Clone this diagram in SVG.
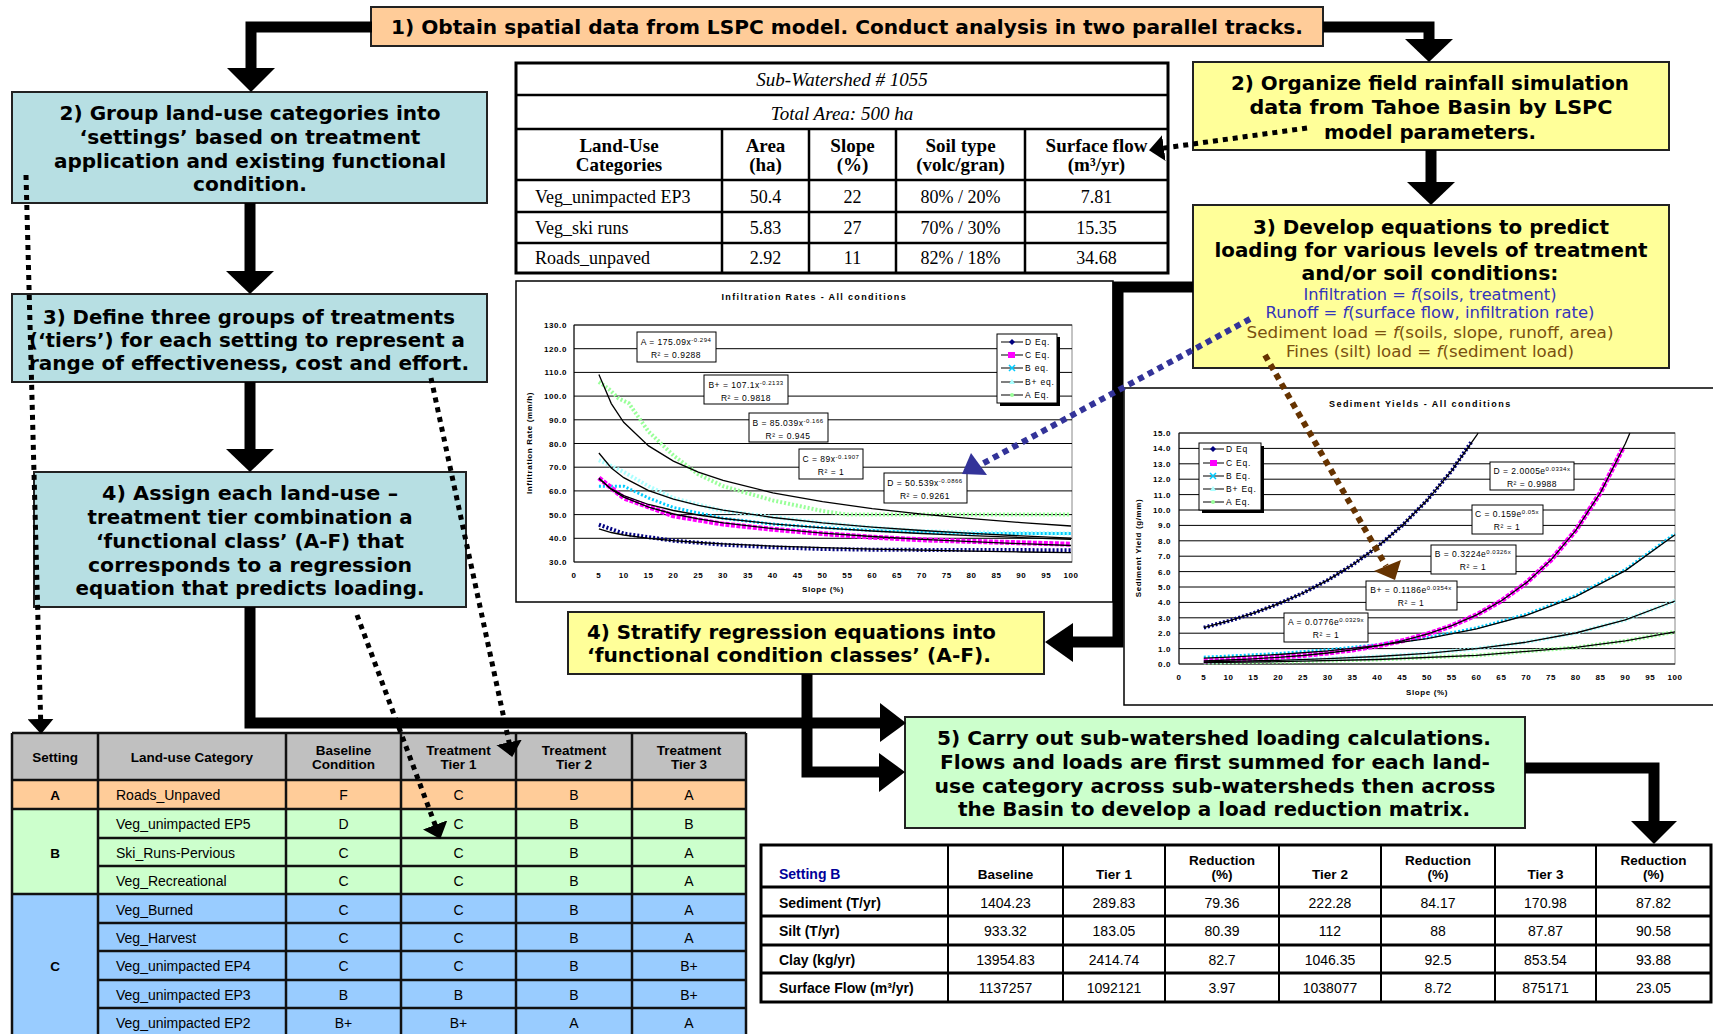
<svg xmlns="http://www.w3.org/2000/svg" width="1713" height="1034" viewBox="0 0 1713 1034">
<style>
.bt{font-family:"DejaVu Sans",Verdana,sans-serif;font-weight:bold;font-size:19px;fill:#000;text-anchor:middle}
.rt{font-family:"DejaVu Sans",Verdana,sans-serif;font-size:15px;text-anchor:middle}
.blue{fill:#3333BB}
.brown{fill:#7A5010}
.box{stroke:#222;stroke-width:2}
.teal{fill:#B7DFE3}
.yel{fill:#FFFF99}
.org{fill:#FFCC99}
.grn{fill:#CCFFCC}
.conn{fill:none;stroke:#000;stroke-width:11}
.ah{fill:#000}
.dot{fill:none;stroke:#000;stroke-width:5;stroke-dasharray:5 5}
.tmi{font-family:"Liberation Serif","Times New Roman",serif;font-size:19px;font-style:italic;text-anchor:middle}
.tmb{font-family:"Liberation Serif","Times New Roman",serif;font-size:19px;font-weight:bold;text-anchor:middle}
.tm{font-family:"Liberation Serif","Times New Roman",serif;font-size:18px;text-anchor:middle}
.tl{stroke:#000;stroke-width:2.5}
.ax{font-family:"Liberation Sans",Arial,sans-serif;font-size:8px;font-weight:bold;letter-spacing:0.6px}
.ct{font-family:"Liberation Sans",Arial,sans-serif;font-size:9px;font-weight:bold;letter-spacing:0.8px;text-anchor:middle}
.eq{font-family:"Liberation Sans",Arial,sans-serif;font-size:8.5px;letter-spacing:0.5px;text-anchor:middle}
.lg{font-family:"Liberation Sans",Arial,sans-serif;font-size:8.5px;letter-spacing:0.8px}
.grid{stroke:#000;stroke-width:1}
.fit{fill:none;stroke:#000;stroke-width:1.3}
.sD{fill:none;stroke:#000080;stroke-width:4;stroke-dasharray:2 2}
.sC{fill:none;stroke:#FF00FF;stroke-width:5;stroke-dasharray:4 1.5}
.sB{fill:none;stroke:#00CCFF;stroke-width:3;stroke-dasharray:2 2}
.sBp{fill:none;stroke:#AAFFFF;stroke-width:4;stroke-dasharray:2 2}
.sA{fill:none;stroke:#99FF99;stroke-width:4;stroke-dasharray:2 2}
.eb{fill:#fff;stroke:#000;stroke-width:1}
.th{font-family:"Liberation Sans",Arial,sans-serif;font-size:13.5px;font-weight:bold;text-anchor:middle}
.td{font-family:"Liberation Sans",Arial,sans-serif;font-size:14px;text-anchor:middle}
.tdl{font-family:"Liberation Sans",Arial,sans-serif;font-size:14px}
.rh{font-family:"Liberation Sans",Arial,sans-serif;font-size:14px;font-weight:bold}
.gl{stroke:#111;stroke-width:2.5}
</style>
<defs>
<marker id="dah" viewBox="0 0 15 26" refX="14" refY="13" markerWidth="15" markerHeight="26" markerUnits="userSpaceOnUse" orient="auto"><path d="M0,0L15,13L0,26Z" fill="#000"/></marker>
</defs>
<rect width="1713" height="1034" fill="#fff"/>

<g id="step1">
<rect class="box org" x="371" y="7" width="952" height="39"/>
<text class="bt" x="847" y="34" textLength="912" lengthAdjust="spacingAndGlyphs">1) Obtain spatial data from LSPC model. Conduct analysis in two parallel tracks.</text>
</g>

<g id="left2">
<rect class="box teal" x="12" y="92" width="475" height="111"/>
<text class="bt" font-size="20" x="250" y="120" textLength="381" lengthAdjust="spacingAndGlyphs">2) Group land-use categories into</text>
<text class="bt" font-size="20" x="250" y="144" textLength="341" lengthAdjust="spacingAndGlyphs">‘settings’ based on treatment</text>
<text class="bt" font-size="20" x="250" y="168" textLength="392" lengthAdjust="spacingAndGlyphs">application and existing functional</text>
<text class="bt" font-size="20" x="250" y="191" textLength="114" lengthAdjust="spacingAndGlyphs">condition.</text>
</g>

<g id="left3">
<rect class="box teal" x="12" y="294" width="475" height="88"/>
<text class="bt" font-size="20" x="249" y="324" textLength="412" lengthAdjust="spacingAndGlyphs">3) Define three groups of treatments</text>
<text class="bt" font-size="20" x="247" y="347" textLength="436" lengthAdjust="spacingAndGlyphs">(‘tiers’) for each setting to represent a</text>
<text class="bt" font-size="20" x="249" y="370" textLength="440" lengthAdjust="spacingAndGlyphs">range of effectiveness, cost and effort.</text>
</g>

<g id="left4">
<rect class="box teal" x="34" y="472" width="432" height="135"/>
<text class="bt" font-size="20" x="250" y="500" textLength="296" lengthAdjust="spacingAndGlyphs">4) Assign each land-use –</text>
<text class="bt" font-size="20" x="250" y="524" textLength="325" lengthAdjust="spacingAndGlyphs">treatment tier combination a</text>
<text class="bt" font-size="20" x="250" y="548" textLength="308" lengthAdjust="spacingAndGlyphs">‘functional class’ (A-F) that</text>
<text class="bt" font-size="20" x="250" y="572" textLength="324" lengthAdjust="spacingAndGlyphs">corresponds to a regression</text>
<text class="bt" font-size="20" x="250" y="595" textLength="349" lengthAdjust="spacingAndGlyphs">equation that predicts loading.</text>
</g>

<g id="right2">
<rect class="box yel" x="1193" y="62" width="476" height="88"/>
<text class="bt" x="1430" y="90" textLength="398" lengthAdjust="spacingAndGlyphs">2) Organize field rainfall simulation</text>
<text class="bt" x="1431" y="114" textLength="363" lengthAdjust="spacingAndGlyphs">data from Tahoe Basin by LSPC</text>
<text class="bt" x="1430" y="139" textLength="212" lengthAdjust="spacingAndGlyphs">model parameters.</text>
</g>

<g id="right3">
<rect class="box yel" x="1193" y="205" width="476" height="163"/>
<text class="bt" x="1431" y="234" textLength="356" lengthAdjust="spacingAndGlyphs">3) Develop equations to predict</text>
<text class="bt" x="1431" y="257" textLength="433" lengthAdjust="spacingAndGlyphs">loading for various levels of treatment</text>
<text class="bt" x="1430" y="280" textLength="257" lengthAdjust="spacingAndGlyphs">and/or soil conditions:</text>
<text class="rt blue" x="1430" y="300" textLength="253" lengthAdjust="spacingAndGlyphs">Infiltration = <tspan font-style="italic">f</tspan>(soils, treatment)</text>
<text class="rt blue" x="1430" y="318" textLength="329" lengthAdjust="spacingAndGlyphs">Runoff = <tspan font-style="italic">f</tspan>(surface flow, infiltration rate)</text>
<text class="rt brown" x="1430" y="338" textLength="367" lengthAdjust="spacingAndGlyphs">Sediment load = <tspan font-style="italic">f</tspan>(soils, slope, runoff, area)</text>
<text class="rt brown" x="1430" y="357" textLength="288" lengthAdjust="spacingAndGlyphs">Fines (silt) load = <tspan font-style="italic">f</tspan>(sediment load)</text>
</g>

<g id="stratify">
<rect class="box yel" x="568" y="612" width="476" height="62"/>
<text class="bt" style="text-anchor:start" x="587" y="639" textLength="409" lengthAdjust="spacingAndGlyphs">4) Stratify regression equations into</text>
<text class="bt" style="text-anchor:start" x="587" y="662" textLength="404" lengthAdjust="spacingAndGlyphs">‘functional condition classes’ (A-F).</text>
</g>

<g id="step5">
<rect class="box grn" x="905" y="717" width="620" height="111"/>
<text class="bt" x="1214" y="745" textLength="554" lengthAdjust="spacingAndGlyphs">5) Carry out sub-watershed loading calculations.</text>
<text class="bt" x="1215" y="769" textLength="550" lengthAdjust="spacingAndGlyphs">Flows and loads are first summed for each land-</text>
<text class="bt" x="1215" y="793" textLength="561" lengthAdjust="spacingAndGlyphs">use category across sub-watersheds then across</text>
<text class="bt" x="1214" y="816" textLength="512" lengthAdjust="spacingAndGlyphs">the Basin to develop a load reduction matrix.</text>
</g>

<g id="subwatershed-table">
<rect x="516" y="63" width="652" height="210" fill="#fff" stroke="#000" stroke-width="3"/>
<path class="tl" d="M516,95H1168M516,129H1168M516,180H1168M516,212H1168M516,243H1168M722,129V273M809,129V273M896,129V273M1025,129V273"/>
<text class="tmi" x="842" y="86">Sub-Watershed # 1055</text>
<text class="tmi" x="842" y="120">Total Area: 500 ha</text>
<text class="tmb" x="619" y="152">Land-Use</text><text class="tmb" x="619" y="171">Categories</text>
<text class="tmb" x="765.5" y="152">Area</text><text class="tmb" x="765.5" y="171">(ha)</text>
<text class="tmb" x="852.5" y="152">Slope</text><text class="tmb" x="852.5" y="171">(%)</text>
<text class="tmb" x="960.5" y="152">Soil type</text><text class="tmb" x="960.5" y="171">(volc/gran)</text>
<text class="tmb" x="1096.5" y="152">Surface flow</text><text class="tmb" x="1096.5" y="171">(m³/yr)</text>
<text class="tm" style="text-anchor:start" x="535" y="203">Veg_unimpacted EP3</text>
<text class="tm" x="765.5" y="203">50.4</text><text class="tm" x="852.5" y="203">22</text><text class="tm" x="960.5" y="203">80% / 20%</text><text class="tm" x="1096.5" y="203">7.81</text>
<text class="tm" style="text-anchor:start" x="535" y="234">Veg_ski runs</text>
<text class="tm" x="765.5" y="234">5.83</text><text class="tm" x="852.5" y="234">27</text><text class="tm" x="960.5" y="234">70% / 30%</text><text class="tm" x="1096.5" y="234">15.35</text>
<text class="tm" style="text-anchor:start" x="535" y="264">Roads_unpaved</text>
<text class="tm" x="765.5" y="264">2.92</text><text class="tm" x="852.5" y="264">11</text><text class="tm" x="960.5" y="264">82% / 18%</text><text class="tm" x="1096.5" y="264">34.68</text>
</g>

<g id="infiltration-chart">
<rect x="516" y="281" width="597" height="321" fill="#fff" stroke="#000" stroke-width="1.5"/>
<text class="ct" x="814" y="300" textLength="185">Infiltration Rates - All conditions</text>
<rect x="574" y="325" width="498" height="237" fill="none" stroke="#888" stroke-width="1"/>
<path class="grid" d="M574,325H1072M574,348.7H1072M574,372.4H1072M574,396.1H1072M574,419.8H1072M574,443.5H1072M574,467.2H1072M574,490.9H1072M574,514.6H1072M574,538.3H1072M574,562H1072M574,325V562"/>
<g class="ax" text-anchor="end">
<text x="567" y="328">130.0</text><text x="567" y="351.7">120.0</text><text x="567" y="375.4">110.0</text><text x="567" y="399.1">100.0</text><text x="567" y="422.8">90.0</text><text x="567" y="446.5">80.0</text><text x="567" y="470.2">70.0</text><text x="567" y="493.9">60.0</text><text x="567" y="517.6">50.0</text><text x="567" y="541.3">40.0</text><text x="567" y="565">30.0</text>
</g>
<g class="ax" text-anchor="middle">
<text x="574" y="578">0</text><text x="598.9" y="578">5</text><text x="623.7" y="578">10</text><text x="648.6" y="578">15</text><text x="673.4" y="578">20</text><text x="698.3" y="578">25</text><text x="723.1" y="578">30</text><text x="748" y="578">35</text><text x="772.8" y="578">40</text><text x="797.7" y="578">45</text><text x="822.5" y="578">50</text><text x="847.4" y="578">55</text><text x="872.2" y="578">60</text><text x="897.1" y="578">65</text><text x="921.9" y="578">70</text><text x="946.8" y="578">75</text><text x="971.6" y="578">80</text><text x="996.5" y="578">85</text><text x="1021.3" y="578">90</text><text x="1046.2" y="578">95</text><text x="1071" y="578">100</text>
</g>
<text class="ax" x="823" y="592" text-anchor="middle">Slope (%)</text>
<text class="ax" x="0" y="0" text-anchor="middle" transform="translate(532,443) rotate(-90)">Infiltration Rate (mm/h)</text>
<polyline class="sA" points="598.9,381.9 608.8,389 618.7,398.5 628.7,403.2 648.6,431.6 673.4,455.4 698.3,474.3 723.1,486.2 772.8,500.4 822.5,511 847.4,514.6 1071,514.6"/>
<polyline class="sBp" points="598.9,460.1 623.7,471.9 648.6,486.2 673.4,498 723.1,511 772.8,517 822.5,522.9 872.2,527.6 921.9,531.2 971.6,532.4 1071,533.6"/>
<polyline class="sB" points="598.9,486.2 623.7,486.2 648.6,498 673.4,507.5 723.1,518.2 772.8,524.1 822.5,527.6 872.2,530.5 921.9,532.4 971.6,533.6 1071,533.6"/>
<polyline class="sC" points="598.9,477.9 623.7,497.9 673.4,515.8 723.1,524.1 772.8,529.3 822.5,533.6 872.2,537.2 921.9,539.8 971.6,541.4 1071,544.2"/>
<polyline class="sD" points="598.9,524.6 623.7,533.6 673.4,540.7 723.1,544.7 772.8,547.3 822.5,549 872.2,549.7 921.9,549.9 1071,550.2"/>
<polyline class="fit" points="598.9,374.6 611.3,403.6 623.7,422.3 648.6,445.9 673.4,461.1 698.3,472.1 723.1,480.4 772.8,492.8 822.5,501.7 872.2,508.6 921.9,514.1 971.6,518.7 1021.3,522.6 1071,526"/>
<polyline class="fit" points="598.9,453 611.3,468 623.7,477.7 648.6,490.7 673.4,499.1 698.3,505.4 723.1,510.2 772.8,517.5 822.5,522.9 872.2,527.1 921.9,530.5 971.6,533.4 1021.3,535.9 1071,538.1"/>
<polyline class="fit" points="598.9,478.8 611.3,488.9 623.7,495.6 648.6,504.5 673.4,510.5 698.3,515 723.1,518.5 772.8,523.8 822.5,527.8 872.2,531 921.9,533.5 971.6,535.7 1021.3,537.6 1071,539.3"/>
<polyline class="fit" points="598.9,477.9 611.3,489.5 623.7,497.1 648.6,507.2 673.4,514 698.3,518.9 723.1,522.8 772.8,528.7 822.5,533.1 872.2,536.5 921.9,539.3 971.6,541.6 1021.3,543.7 1071,545.5"/>
<polyline class="fit" points="598.9,528.9 611.3,532.5 623.7,535 648.6,538.3 673.4,540.7 698.3,542.5 723.1,543.9 772.8,546.1 822.5,547.7 872.2,549.1 921.9,550.2 971.6,551.1 1021.3,552 1071,552.7"/>
<rect class="eb" x="637" y="332" width="79" height="30"/>
<text class="eq" x="676" y="345">A = 175.09x<tspan dy="-3" font-size="6">-0.294</tspan></text>
<text class="eq" x="676" y="358">R² = 0.9288</text>
<rect class="eb" x="704" y="375" width="84" height="29"/>
<text class="eq" x="746" y="388">B+ = 107.1x<tspan dy="-3" font-size="6">-0.2133</tspan></text>
<text class="eq" x="746" y="401">R² = 0.9818</text>
<rect class="eb" x="749" y="413" width="79" height="29"/>
<text class="eq" x="788" y="426">B = 85.039x<tspan dy="-3" font-size="6">-0.166</tspan></text>
<text class="eq" x="788" y="439">R² = 0.945</text>
<rect class="eb" x="799" y="449" width="64" height="30"/>
<text class="eq" x="831" y="462">C = 89x<tspan dy="-3" font-size="6">-0.1907</tspan></text>
<text class="eq" x="831" y="475">R² = 1</text>
<rect class="eb" x="884" y="473" width="83" height="30"/>
<text class="eq" x="925" y="486">D = 50.539x<tspan dy="-3" font-size="6">-0.0866</tspan></text>
<text class="eq" x="925" y="499">R² = 0.9261</text>
<rect x="1000" y="337" width="60" height="69" fill="#000"/>
<rect x="997" y="334" width="60" height="69" fill="#fff" stroke="#000" stroke-width="1"/>
<path d="M1001,342H1023M1001,355H1023M1001,368H1023M1001,382H1023M1001,395H1023" stroke="#000" stroke-width="1.2"/>
<path d="M1012,339L1015,342L1012,345L1009,342Z" fill="#000080"/>
<rect x="1008" y="352" width="7" height="6" fill="#FF00FF"/>
<path d="M1009,365L1015,371M1015,365L1009,371" stroke="#00CCFF" stroke-width="1.5"/>
<path d="M1012,379L1015,384L1009,384Z" fill="#AAFFFF"/>
<circle cx="1012" cy="395" r="2" fill="#99FF99"/>
<text class="lg" x="1025" y="345">D Eq.</text>
<text class="lg" x="1025" y="358">C Eq.</text>
<text class="lg" x="1025" y="371">B eq.</text>
<text class="lg" x="1025" y="385">B+ eq.</text>
<text class="lg" x="1025" y="398">A Eq.</text>
</g>

<g id="sediment-chart">
<rect x="1124" y="388" width="600" height="317" fill="#fff" stroke="#000" stroke-width="1.5"/>
<text class="ct" x="1420" y="407" textLength="182">Sediment Yields - All conditions</text>
<rect x="1179" y="433" width="496" height="231" fill="none" stroke="#888" stroke-width="1"/>
<path class="grid" d="M1179,433H1675M1179,448.4H1675M1179,463.8H1675M1179,479.2H1675M1179,494.6H1675M1179,510H1675M1179,525.4H1675M1179,540.8H1675M1179,556.2H1675M1179,571.6H1675M1179,587H1675M1179,602.4H1675M1179,617.8H1675M1179,633.2H1675M1179,648.6H1675M1179,664H1675M1179,433V664"/>
<g class="ax" text-anchor="end">
<text x="1171" y="436">15.0</text><text x="1171" y="451.4">14.0</text><text x="1171" y="466.8">13.0</text><text x="1171" y="482.2">12.0</text><text x="1171" y="497.6">11.0</text><text x="1171" y="513">10.0</text><text x="1171" y="528.4">9.0</text><text x="1171" y="543.8">8.0</text><text x="1171" y="559.2">7.0</text><text x="1171" y="574.6">6.0</text><text x="1171" y="590">5.0</text><text x="1171" y="605.4">4.0</text><text x="1171" y="620.8">3.0</text><text x="1171" y="636.2">2.0</text><text x="1171" y="651.6">1.0</text><text x="1171" y="667">0.0</text>
</g>
<g class="ax" text-anchor="middle">
<text x="1179" y="680">0</text><text x="1203.8" y="680">5</text><text x="1228.6" y="680">10</text><text x="1253.4" y="680">15</text><text x="1278.2" y="680">20</text><text x="1303" y="680">25</text><text x="1327.8" y="680">30</text><text x="1352.6" y="680">35</text><text x="1377.4" y="680">40</text><text x="1402.2" y="680">45</text><text x="1427" y="680">50</text><text x="1451.8" y="680">55</text><text x="1476.6" y="680">60</text><text x="1501.4" y="680">65</text><text x="1526.2" y="680">70</text><text x="1551" y="680">75</text><text x="1575.8" y="680">80</text><text x="1600.6" y="680">85</text><text x="1625.4" y="680">90</text><text x="1650.2" y="680">95</text><text x="1675" y="680">100</text>
</g>
<text class="ax" x="1427" y="695" text-anchor="middle">Slope (%)</text>
<text class="ax" x="0" y="0" text-anchor="middle" transform="translate(1141,548) rotate(-90)">Sediment Yield (g/mm)</text>
<polyline class="sA" points="1203.8,662.6 1278.2,661.7 1377.4,659.5 1476.6,655.4 1575.8,647.4 1625.4,640.9 1675,631.9"/>
<polyline class="sBp" points="1203.8,661.8 1228.6,661.4 1278.2,660.3 1327.8,658.7 1377.4,656.5 1427,653.3 1476.6,648.7 1526.2,642.2 1575.8,633 1625.4,619.8 1675,601"/>
<polyline class="sB" points="1203.8,657.2 1228.6,656.1 1278.2,653.5 1327.8,649.8 1377.4,644.7 1427,637.7 1476.6,627.9 1526.2,614.4 1575.8,595.6 1625.4,569.6 1675,533.7"/>
<polyline class="sC" points="1203.8,660.9 1228.6,660 1253.4,658.8 1278.2,657.3 1303,655.5 1327.8,653 1352.6,649.9 1377.4,645.9 1402.2,640.8 1427,634.2 1451.8,625.7 1476.6,614.8 1501.4,600.8 1526.2,582.9 1551,559.9 1575.8,530.3 1600.6,492.3 1623,448"/>
<polyline class="sD" points="1203.8,627.6 1228.6,621 1253.4,613.2 1278.2,603.9 1303,593 1327.8,580.1 1352.6,564.8 1377.4,546.8 1402.2,525.5 1427,500.3 1451.8,470.6 1472,441"/>
<polyline class="fit" points="1203.8,627.6 1228.6,621 1253.4,613.2 1278.2,603.9 1303,593 1327.8,580.1 1352.6,564.8 1377.4,546.8 1402.2,525.5 1427,500.3 1451.8,470.6 1476.6,435.5 1478.1,433"/>
<polyline class="fit" points="1203.8,660.9 1228.6,660 1253.4,658.8 1278.2,657.3 1303,655.5 1327.8,653 1352.6,649.9 1377.4,645.9 1402.2,640.8 1427,634.2 1451.8,625.7 1476.6,614.8 1501.4,600.8 1526.2,582.9 1551,559.9 1575.8,530.3 1600.6,492.3 1625.4,443.6 1629.9,433"/>
<polyline class="fit" points="1203.8,658.2 1228.6,657.1 1278.2,654.5 1327.8,650.8 1377.4,645.7 1427,638.7 1476.6,628.9 1526.2,615.4 1575.8,596.6 1625.4,570.6 1675,534.7"/>
<polyline class="fit" points="1203.8,661.8 1228.6,661.4 1278.2,660.3 1327.8,658.7 1377.4,656.5 1427,653.3 1476.6,648.7 1526.2,642.2 1575.8,633 1625.4,619.8 1675,601"/>
<polyline class="fit" points="1203.8,662.6 1278.2,661.7 1377.4,659.5 1476.6,655.4 1575.8,647.4 1625.4,640.9 1675,631.9"/>
<rect class="eb" x="1490" y="462" width="84" height="28"/>
<text class="eq" x="1532" y="474">D = 2.0005e<tspan dy="-3" font-size="6">0.0334x</tspan></text>
<text class="eq" x="1532" y="487">R² = 0.9988</text>
<rect class="eb" x="1472" y="505" width="71" height="29"/>
<text class="eq" x="1507" y="517">C = 0.159e<tspan dy="-3" font-size="6">0.05x</tspan></text>
<text class="eq" x="1507" y="530">R² = 1</text>
<rect class="eb" x="1431" y="545" width="85" height="29"/>
<text class="eq" x="1473" y="557">B = 0.3224e<tspan dy="-3" font-size="6">0.0326x</tspan></text>
<text class="eq" x="1473" y="570">R² = 1</text>
<rect class="eb" x="1366" y="581" width="91" height="29"/>
<text class="eq" x="1411" y="593">B+ = 0.1186e<tspan dy="-3" font-size="6">0.0354x</tspan></text>
<text class="eq" x="1411" y="606">R² = 1</text>
<rect class="eb" x="1284" y="613" width="84" height="29"/>
<text class="eq" x="1326" y="625">A = 0.0776e<tspan dy="-3" font-size="6">0.0329x</tspan></text>
<text class="eq" x="1326" y="638">R² = 1</text>
<rect x="1202" y="446" width="62" height="67" fill="#000"/>
<rect x="1199" y="443" width="62" height="67" fill="#fff" stroke="#000" stroke-width="1"/>
<path d="M1203,449H1224M1203,463H1224M1203,476H1224M1203,489H1224M1203,502H1224" stroke="#000" stroke-width="1.2"/>
<path d="M1213,446L1216,449L1213,452L1210,449Z" fill="#000080"/>
<rect x="1210" y="460" width="7" height="6" fill="#FF00FF"/>
<path d="M1210,473L1216,479M1216,473L1210,479" stroke="#00CCFF" stroke-width="1.5"/>
<path d="M1213,486L1216,491L1210,491Z" fill="#AAFFFF"/>
<circle cx="1213" cy="502" r="2" fill="#99FF99"/>
<text class="lg" x="1226" y="452">D Eq</text>
<text class="lg" x="1226" y="466">C Eq.</text>
<text class="lg" x="1226" y="479">B Eq.</text>
<text class="lg" x="1226" y="492">B+ Eq.</text>
<text class="lg" x="1226" y="505">A Eq.</text>
</g>

<g id="treatment-table">
<rect x="12" y="733" width="734" height="47" fill="#C0C0C0"/>
<rect x="12" y="780" width="734" height="29" fill="#FFCC99"/>
<rect x="12" y="809" width="734" height="85" fill="#CCFFCC"/>
<rect x="12" y="894" width="734" height="145" fill="#99CCFF"/>
<path class="gl" d="M12,733H746M12,780H746M12,809H746M12,894H746M98,838H746M98,866H746M98,923H746M98,951H746M98,980H746M98,1008H746M12,733V1034M98,733V1034M286,733V1034M401,733V1034M516,733V1034M632,733V1034M746,733V1034"/>
<text class="th" x="55" y="762">Setting</text>
<text class="th" x="192" y="762">Land-use Category</text>
<text class="th" x="343.5" y="755">Baseline</text><text class="th" x="343.5" y="769">Condition</text>
<text class="th" x="458.5" y="755">Treatment</text><text class="th" x="458.5" y="769">Tier 1</text>
<text class="th" x="574" y="755">Treatment</text><text class="th" x="574" y="769">Tier 2</text>
<text class="th" x="689" y="755">Treatment</text><text class="th" x="689" y="769">Tier 3</text>
<text class="th" x="55" y="800">A</text>
<text class="th" x="55" y="858">B</text>
<text class="th" x="55" y="971">C</text>
<g class="tdl">
<text x="116" y="800">Roads_Unpaved</text>
<text x="116" y="829">Veg_unimpacted EP5</text>
<text x="116" y="858">Ski_Runs-Pervious</text>
<text x="116" y="886">Veg_Recreational</text>
<text x="116" y="915">Veg_Burned</text>
<text x="116" y="943">Veg_Harvest</text>
<text x="116" y="971">Veg_unimpacted EP4</text>
<text x="116" y="1000">Veg_unimpacted EP3</text>
<text x="116" y="1028">Veg_unimpacted EP2</text>
</g>
<g class="td">
<text x="343.5" y="800">F</text><text x="458.5" y="800">C</text><text x="574" y="800">B</text><text x="689" y="800">A</text>
<text x="343.5" y="829">D</text><text x="458.5" y="829">C</text><text x="574" y="829">B</text><text x="689" y="829">B</text>
<text x="343.5" y="858">C</text><text x="458.5" y="858">C</text><text x="574" y="858">B</text><text x="689" y="858">A</text>
<text x="343.5" y="886">C</text><text x="458.5" y="886">C</text><text x="574" y="886">B</text><text x="689" y="886">A</text>
<text x="343.5" y="915">C</text><text x="458.5" y="915">C</text><text x="574" y="915">B</text><text x="689" y="915">A</text>
<text x="343.5" y="943">C</text><text x="458.5" y="943">C</text><text x="574" y="943">B</text><text x="689" y="943">A</text>
<text x="343.5" y="971">C</text><text x="458.5" y="971">C</text><text x="574" y="971">B</text><text x="689" y="971">B+</text>
<text x="343.5" y="1000">B</text><text x="458.5" y="1000">B</text><text x="574" y="1000">B</text><text x="689" y="1000">B+</text>
<text x="343.5" y="1028">B+</text><text x="458.5" y="1028">B+</text><text x="574" y="1028">A</text><text x="689" y="1028">A</text>
</g>
</g>

<g id="reduction-table">
<rect x="761" y="845" width="950" height="157" fill="#fff" stroke="#000" stroke-width="3"/>
<path d="M761,887H1711M761,916H1711M761,945H1711M761,973H1711" stroke="#000" stroke-width="3"/>
<path d="M948,845V1002M1063,845V1002M1165,845V1002M1279,845V1002M1381,845V1002M1495,845V1002M1596,845V1002" stroke="#000" stroke-width="2"/>
<text class="rh" x="779" y="879" fill="#000099">Setting B</text>
<g class="th" font-size="14">
<text x="1005.5" y="879">Baseline</text>
<text x="1114" y="879">Tier 1</text>
<text x="1222" y="865">Reduction</text><text x="1222" y="879">(%)</text>
<text x="1330" y="879">Tier 2</text>
<text x="1438" y="865">Reduction</text><text x="1438" y="879">(%)</text>
<text x="1545.5" y="879">Tier 3</text>
<text x="1653.5" y="865">Reduction</text><text x="1653.5" y="879">(%)</text>
</g>
<text class="rh" x="779" y="908">Sediment (T/yr)</text>
<text class="rh" x="779" y="936">Silt (T/yr)</text>
<text class="rh" x="779" y="965">Clay (kg/yr)</text>
<text class="rh" x="779" y="993">Surface Flow (m³/yr)</text>
<g class="td">
<text x="1005.5" y="908">1404.23</text><text x="1114" y="908">289.83</text><text x="1222" y="908">79.36</text><text x="1330" y="908">222.28</text><text x="1438" y="908">84.17</text><text x="1545.5" y="908">170.98</text><text x="1653.5" y="908">87.82</text>
<text x="1005.5" y="936">933.32</text><text x="1114" y="936">183.05</text><text x="1222" y="936">80.39</text><text x="1330" y="936">112</text><text x="1438" y="936">88</text><text x="1545.5" y="936">87.87</text><text x="1653.5" y="936">90.58</text>
<text x="1005.5" y="965">13954.83</text><text x="1114" y="965">2414.74</text><text x="1222" y="965">82.7</text><text x="1330" y="965">1046.35</text><text x="1438" y="965">92.5</text><text x="1545.5" y="965">853.54</text><text x="1653.5" y="965">93.88</text>
<text x="1005.5" y="993">1137257</text><text x="1114" y="993">1092121</text><text x="1222" y="993">3.97</text><text x="1330" y="993">1038077</text><text x="1438" y="993">8.72</text><text x="1545.5" y="993">875171</text><text x="1653.5" y="993">23.05</text>
</g>
</g>

<g id="connectors">
<polyline class="conn" points="372,27 251,27 251,70"/>
<polygon class="ah" points="227,68 275,68 251,92"/>
<polyline class="conn" points="1323,27 1429,27 1429,41"/>
<polygon class="ah" points="1405,39 1453,39 1429,62"/>
<line class="conn" x1="250" y1="203" x2="250" y2="273"/>
<polygon class="ah" points="226,271 274,271 250,294"/>
<line class="conn" x1="250" y1="382" x2="250" y2="451"/>
<polygon class="ah" points="226,449 274,449 250,472"/>
<line class="conn" x1="1431" y1="150" x2="1431" y2="184"/>
<polygon class="ah" points="1407,182 1455,182 1431,205"/>
<polyline class="conn" points="1193,287 1118,287 1118,642 1071,642"/>
<polygon class="ah" points="1073,623 1073,662 1045,642"/>
<polyline class="conn" points="250,607 250,723 882,723"/>
<polygon class="ah" points="880,703 880,742 906,723"/>
<polyline class="conn" points="807,674 807,772 881,772"/>
<polygon class="ah" points="879,753 879,792 905,772"/>
<polyline class="conn" points="1525,768 1654,768 1654,823"/>
<polygon class="ah" points="1631,821 1677,821 1654,844"/>
<line class="dot" x1="26" y1="175" x2="41" y2="733" marker-end="url(#dah)"/>
<line class="dot" x1="431" y1="378" x2="512" y2="756" marker-end="url(#dah)"/>
<line class="dot" x1="357" y1="615" x2="440" y2="838" marker-end="url(#dah)"/>
<line class="dot" x1="1307" y1="128" x2="1150" y2="150" marker-end="url(#dah)"/>
<line x1="1250" y1="319" x2="982" y2="464" stroke="#333399" stroke-width="6" stroke-dasharray="6 5"/>
<polygon points="971,453 962,474 987,475" fill="#333399"/>
<line x1="1265" y1="355" x2="1386" y2="566" stroke="#663300" stroke-width="6" stroke-dasharray="6 5"/>
<polygon points="1374,571 1401,560 1395,580" fill="#663300"/>
</g>
</svg>
